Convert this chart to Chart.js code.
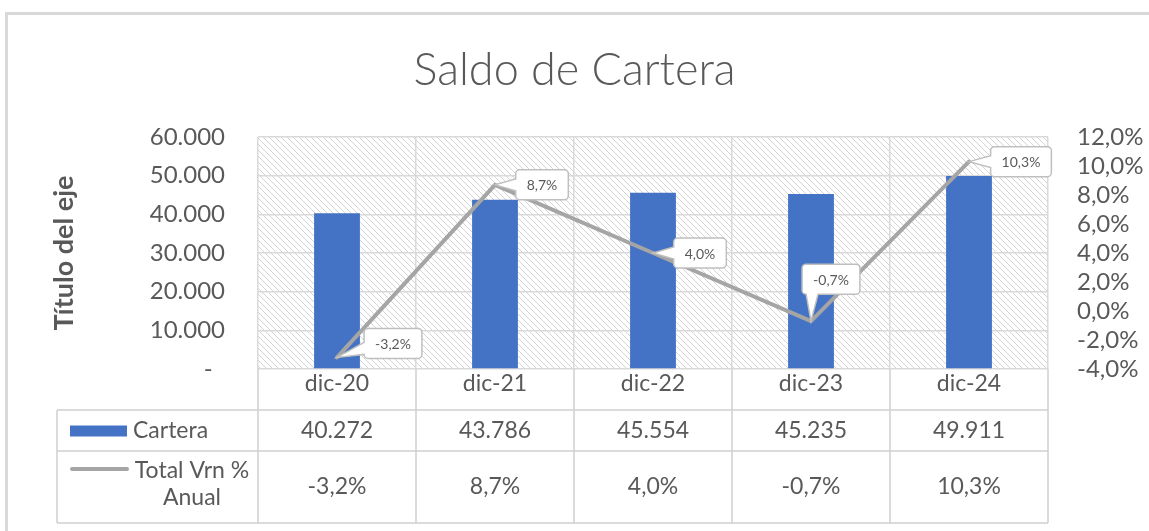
<!DOCTYPE html>
<html>
<head>
<meta charset="utf-8">
<script src="https://cdn.jsdelivr.net/npm/chart.js@4.4.1/dist/chart.umd.min.js"></script>
<style>
  html, body { margin: 0; padding: 0; background: #ffffff; }
  #wrap { width: 1149px; height: 531px; position: relative; }
  canvas { display: block; }
</style>
</head>
<body>
<div id="wrap"><canvas id="c" width="1149" height="531"></canvas></div>
<script>
// ---- Data ----
const chartTitle = 'Saldo de Cartera';
const axisTitle = 'Título del eje';
const categories = ['dic-20', 'dic-21', 'dic-22', 'dic-23', 'dic-24'];
const seriesNames = ['Cartera', 'Total Vrn % Anual'];
const carteraValues = [40272, 43786, 45554, 45235, 49911];
const variacionValues = [-3.2, 8.7, 4.0, -0.7, 10.3];
const leftAxisRange = [0, 60000];
const leftAxisStep = 10000;
const rightAxisRange = [-4, 12];
const rightAxisStep = 2;

// ---- Formatting helpers ----
function fmtThousands(n) {
  return String(Math.round(n)).replace(/\B(?=(\d{3})+(?!\d))/g, '.');
}
function fmtPct(v) {
  return v.toFixed(1).replace('.', ',') + '%';
}

const FONT = 'Lato';
const TEXT = '#595959';
const GRID = '#d9d9d9';
const BAR = '#4472c4';
const LINE = '#a5a5a5';

// ---- Hatch pattern for plot area ----
function makeHatch() {
  const s = 6;
  const c = document.createElement('canvas');
  c.width = s; c.height = s;
  const g = c.getContext('2d');
  g.fillStyle = '#ffffff';
  g.fillRect(0, 0, s, s);
  g.strokeStyle = '#d4d4d4';
  g.lineWidth = 1;
  g.beginPath();
  g.moveTo(0, 0); g.lineTo(s, s);
  g.moveTo(-1, s - 1); g.lineTo(1, s + 1);
  g.moveTo(s - 1, -1); g.lineTo(s + 1, 1);
  g.stroke();
  return c;
}

const framePlugin = {
  id: 'frame',
  beforeDraw(chart) {
    const {ctx, chartArea: a} = chart;
    ctx.save();
    ctx.strokeStyle = GRID;
    ctx.lineWidth = 3;
    ctx.strokeRect(6.5, 13.5, 1300, 700);
    const pat = ctx.createPattern(makeHatch(), 'repeat');
    ctx.fillStyle = pat;
    ctx.fillRect(a.left, a.top, a.right - a.left, a.bottom - a.top);
    ctx.restore();
  }
};

// ---- Callout data labels on the line series ----
const calloutPlugin = {
  id: 'callouts',
  afterDatasetsDraw(chart, args, opts) {
    const ds = chart.data.datasets[opts.datasetIndex];
    const meta = chart.getDatasetMeta(opts.datasetIndex);
    const {ctx} = chart;
    ctx.save();
    ctx.font = `${opts.fontSize}px ${FONT}`;
    meta.data.forEach((pt, i) => {
      const txt = fmtPct(ds.data[i]);
      const off = opts.offsets[i];
      const w = ctx.measureText(txt).width + opts.padX * 2;
      const h = opts.boxH;
      const cx = pt.x + off.dx, cy = pt.y + off.dy;
      const L = cx - w / 2, R = cx + w / 2, T = cy - h / 2, B = cy + h / 2;
      const r = 4, bw = 6;
      ctx.beginPath();
      if (off.side === 'bottom') {
        const bx = Math.min(Math.max(pt.x, L + r + bw), R - r - bw);
        ctx.moveTo(L + r, T);
        ctx.lineTo(R - r, T); ctx.arcTo(R, T, R, T + r, r);
        ctx.lineTo(R, B - r); ctx.arcTo(R, B, R - r, B, r);
        ctx.lineTo(bx + bw, B); ctx.lineTo(pt.x, pt.y); ctx.lineTo(bx - bw, B);
        ctx.lineTo(L + r, B); ctx.arcTo(L, B, L, B - r, r);
        ctx.lineTo(L, T + r); ctx.arcTo(L, T, L + r, T, r);
      } else {
        const by = Math.min(Math.max(pt.y, T + r + bw), B - r - bw);
        ctx.moveTo(L + r, T);
        ctx.lineTo(R - r, T); ctx.arcTo(R, T, R, T + r, r);
        ctx.lineTo(R, B - r); ctx.arcTo(R, B, R - r, B, r);
        ctx.lineTo(L + r, B); ctx.arcTo(L, B, L, B - r, r);
        ctx.lineTo(L, by + bw); ctx.lineTo(pt.x, pt.y); ctx.lineTo(L, by - bw);
        ctx.lineTo(L, T + r); ctx.arcTo(L, T, L + r, T, r);
      }
      ctx.closePath();
      ctx.fillStyle = '#ffffff';
      ctx.fill();
      ctx.strokeStyle = '#bfbfbf';
      ctx.lineWidth = 1.5;
      ctx.stroke();
      ctx.fillStyle = TEXT;
      ctx.textAlign = 'center';
      ctx.textBaseline = 'middle';
      ctx.fillText(txt, cx, cy + 1);
    });
    ctx.restore();
  }
};

// ---- Data table below the plot ----
const tablePlugin = {
  id: 'datatable',
  afterDraw(chart, args, opts) {
    const {ctx, chartArea: a, scales: {x}} = chart;
    const n = categories.length;
    const half = (x.getPixelForTick(1) - x.getPixelForTick(0)) / 2;
    const bounds = [];
    for (let i = 0; i < n; i++) bounds.push(x.getPixelForTick(i) - half);
    bounds.push(x.getPixelForTick(n - 1) + half);
    const r1 = a.bottom + opts.headerH;
    const r2 = r1 + opts.row1H;
    const r3 = r2 + opts.row2H;
    const left = opts.left;
    ctx.save();
    ctx.strokeStyle = '#d0d0d0';
    ctx.lineWidth = 1.5;
    ctx.beginPath();
    bounds.forEach(bx => { ctx.moveTo(bx, a.bottom); ctx.lineTo(bx, r3); });
    ctx.moveTo(left, r1); ctx.lineTo(left, r3);
    [r1, r2, r3].forEach(y => { ctx.moveTo(left, y); ctx.lineTo(bounds[n], y); });
    ctx.stroke();

    ctx.fillStyle = TEXT;
    ctx.font = `${opts.fontSize}px ${FONT}`;
    ctx.textBaseline = 'middle';
    ctx.textAlign = 'center';
    const c1 = (r1 + r2) / 2, c2 = (r2 + r3) / 2;
    for (let i = 0; i < n; i++) {
      const cx = x.getPixelForTick(i);
      ctx.fillText(fmtThousands(carteraValues[i]), cx, c1);
      ctx.fillText(fmtPct(variacionValues[i]), cx, c2);
    }
    // legend keys
    ctx.fillStyle = BAR;
    ctx.fillRect(left + 13, c1 - 5, 57, 11);
    ctx.fillStyle = TEXT;
    ctx.textAlign = 'left';
    ctx.fillText(seriesNames[0], left + 76, c1);
    ctx.strokeStyle = LINE;
    ctx.lineWidth = 4;
    ctx.lineCap = 'round';
    ctx.beginPath();
    ctx.moveTo(left + 15, c2 - 18); ctx.lineTo(left + 70, c2 - 18);
    ctx.stroke();
    ctx.textAlign = 'center';
    const parts = seriesNames[1].split(' ');
    const line1 = parts.slice(0, 3).join(' ');
    const line2 = parts.slice(3).join(' ');
    ctx.fillText(line1, left + 135, c2 - 16);
    ctx.fillText(line2, left + 135, c2 + 11);
    ctx.restore();
  }
};

const ctx = document.getElementById('c').getContext('2d');
new Chart(ctx, {
  data: {
    labels: categories,
    datasets: [
      {
        type: 'line',
        label: seriesNames[1],
        data: variacionValues,
        yAxisID: 'y1',
        borderColor: LINE,
        borderWidth: 4,
        pointRadius: 0,
        tension: 0,
        borderJoinStyle: 'round',
        borderCapStyle: 'round',
        order: 1
      },
      {
        type: 'bar',
        label: seriesNames[0],
        data: carteraValues,
        yAxisID: 'y',
        backgroundColor: BAR,
        categoryPercentage: 1,
        barPercentage: 0.29,
        order: 2
      }
    ]
  },
  options: {
    responsive: false,
    animation: false,
    devicePixelRatio: 1,
    layout: { padding: { top: 14, left: 0, right: 0, bottom: 0 } },
    plugins: {
      legend: { display: false },
      tooltip: { enabled: false },
      title: {
        display: true,
        text: chartTitle,
        color: TEXT,
        font: { family: FONT, size: 45, weight: '300' },
        padding: { top: 29, bottom: 40 }
      },
      callouts: {
        datasetIndex: 0,
        fontSize: 14,
        padX: 11,
        boxH: 30,
        offsets: [
          { dx: 56, dy: -14, side: 'left' },
          { dx: 47, dy: 0, side: 'left' },
          { dx: 47, dy: 0, side: 'left' },
          { dx: 20, dy: -42, side: 'bottom' },
          { dx: 52, dy: 0, side: 'left' }
        ]
      },
      datatable: { left: 57, headerH: 41, row1H: 41, row2H: 72, fontSize: 23 }
    },
    scales: {
      x: {
        offset: true,
        grid: { color: GRID, drawTicks: false, offset: true, lineWidth: 1.5 },
        border: { display: false },
        ticks: { color: TEXT, font: { family: FONT, size: 23 }, padding: 1 },
        afterFit(s) { s.height = 162; }
      },
      y: {
        position: 'left',
        min: leftAxisRange[0],
        max: leftAxisRange[1],
        grid: { color: GRID, drawTicks: false, lineWidth: 1.5 },
        border: { display: false },
        ticks: {
          stepSize: leftAxisStep,
          autoSkip: false,
          color: TEXT,
          font: { family: FONT, size: 24 },
          padding: 33,
          callback: v => (v === 0 ? '-  ' : fmtThousands(v))
        },
        title: {
          display: true,
          text: axisTitle,
          color: TEXT,
          font: { family: FONT, size: 27, weight: 'bold' },
          padding: { top: 48, bottom: 0 }
        },
        afterFit(s) { s.width = 258; }
      },
      y1: {
        position: 'right',
        min: rightAxisRange[0],
        max: rightAxisRange[1],
        grid: { display: false, drawTicks: false },
        border: { display: false },
        ticks: {
          stepSize: rightAxisStep,
          autoSkip: false,
          color: TEXT,
          font: { family: FONT, size: 24, lineHeight: 1 },
          padding: 29,
          callback: v => fmtPct(v)
        },
        afterFit(s) { s.width = 101; }
      }
    }
  },
  plugins: [framePlugin, calloutPlugin, tablePlugin]
});
</script>
</body>
</html>
